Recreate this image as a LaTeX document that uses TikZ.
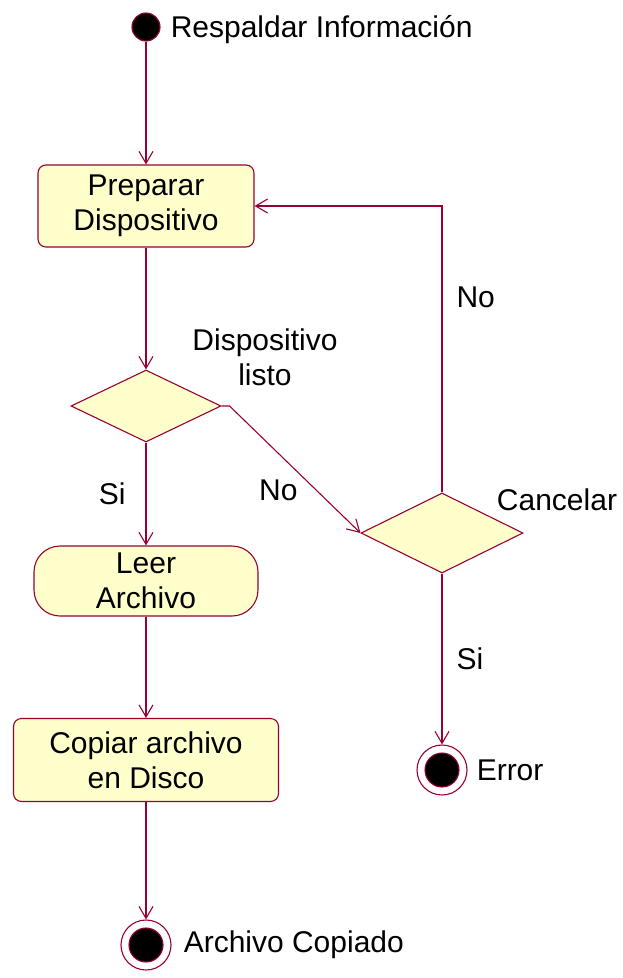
\documentclass[tikz,border=0pt]{standalone}
\usepackage{fontspec}
\setmainfont{Liberation Sans}
\usepackage{tikz}
\usetikzlibrary{
	arrows.meta,
	positioning,
	shapes.geometric
}
\usepackage{xcolor}
\definecolor{umlline}{HTML}{990033}
\definecolor{umlfill}{HTML}{FFFFCC}

\tikzset{
	act/.style={draw=umlline, fill=umlfill, line width=1.1pt, rounded corners=8pt, align=center, inner sep=0pt},
	leer/.style={act, rounded corners=26pt},
	decision/.style={diamond, draw=umlline, fill=umlfill, line width=1.1pt, inner sep=0pt},
	initial/.style={circle, draw=umlline, fill=black, line width=1.1pt, minimum size=28pt, inner sep=0pt},
	final/.style={circle, draw=umlline, fill=white, line width=1.1pt, minimum size=50pt, inner sep=0pt,
		path picture={\filldraw[fill=black, draw=umlline, line width=1.1pt] (path picture bounding box.center) circle (17pt);}},
	lbl/.style={inner sep=2pt, align=center},
	flow/.style={draw=umlline, line width=1.1pt, -{Straight Barb[length=12pt, width=14pt]}}
}

\begin{document}
\begin{tikzpicture}[x=1pt, y=-1pt, font=\fontsize{30}{35}\selectfont]
		
		\useasboundingbox (0,0) rectangle (623,978);
		
		\node[initial] (inicio) at (146,27) {};
		\node[lbl, right=8pt of inicio, yshift=-3pt] (inicioLbl) {Respaldar Información};
		
		\node[act, minimum width=216pt, minimum height=82pt] (preparar) at (146,206) {Preparar\\Dispositivo};
		
		\node[decision, minimum width=150pt, minimum height=72pt] (listo) at (146,406) {};
		\node[lbl] (listoLbl) at (265,357) {Dispositivo\\listo};
		
		\node[leer, minimum width=224pt, minimum height=70pt] (leer) at (146,581) {Leer\\Archivo};
		
		\node[act, minimum width=265pt, minimum height=83pt] (copiar) at (146,760) {Copiar archivo\\en Disco};
		
		\node[final] (fin) at (146,945) {};
		\node[lbl, right=10pt of fin] (finLbl) {Archivo Copiado};
		
		\node[decision, minimum width=162pt, minimum height=80pt] (cancelar) at (442,533) {};
		\node[lbl] (cancelarLbl) at (557,500) {Cancelar};
		
		\node[final] (error) at (442,770) {};
		\node[lbl, right=7pt of error] (errorLbl) {Error};
		
		\draw[flow] (inicio) -- (preparar);
		\draw[flow] (preparar) -- (listo);
		\draw[flow] (listo) -- node[lbl, left=18pt] (siLeer) {Si} (leer);
		\draw[flow] (leer) -- (copiar);
		\draw[flow] (copiar) -- (fin);
		\draw[flow] (listo.east) -- ++(8,0) -- node[lbl, pos=0.55, below left=2pt] (noListo) {No} (cancelar.west);
		\draw[flow] (cancelar.north) |- node[lbl, pos=0.34, right=12pt] (noCancelar) {No} (preparar.east);
		\draw[flow] (cancelar) -- node[lbl, right=12pt] (siCancelar) {Si} (error);
		
	\end{tikzpicture}
\end{document}
